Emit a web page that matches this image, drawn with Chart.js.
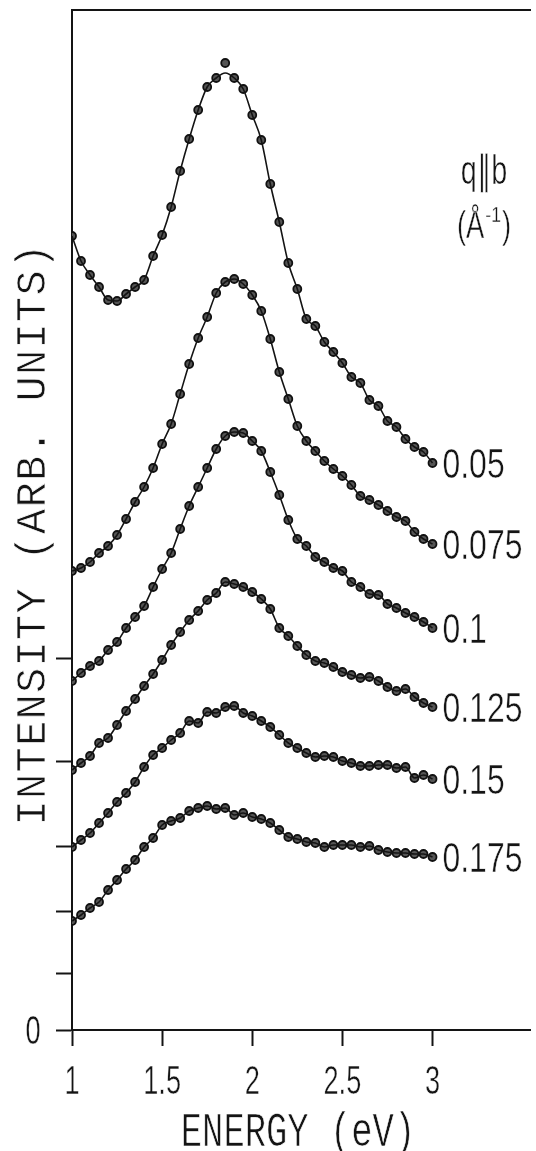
<!DOCTYPE html>
<html lang="en">
<head>
<meta charset="UTF-8">
<title>Loss spectra, INTENSITY vs ENERGY</title>
<script src="https://cdn.jsdelivr.net/npm/chart.js"></script>
<style>
    body {
        margin: 0;
        background-color: #fff;
    }
    #wrap {
        width: 536px;
        height: 1151px;
    }
</style>
</head>
<body>
<div id="wrap"><canvas id="lossChart" width="536" height="1151"></canvas></div>
<script>
    // energy grid of the measured spectra (eV)
    var energies = [1.00, 1.05, 1.10, 1.15, 1.20, 1.25, 1.30, 1.35, 1.40, 1.45,
        1.50, 1.55, 1.60, 1.65, 1.70, 1.75, 1.80, 1.85, 1.90, 1.95,
        2.00, 2.05, 2.10, 2.15, 2.20, 2.25, 2.30, 2.35, 2.40, 2.45,
        2.50, 2.55, 2.60, 2.65, 2.70, 2.75, 2.80, 2.85, 2.90, 2.95, 3.00];

    // momentum transfer q||b for each spectrum (1/A)
    var qLabels = ['0.05', '0.075', '0.1', '0.125', '0.15', '0.175'];

    // measured intensities (arb. units, curves offset vertically)
    var q005 = [7.94, 7.69, 7.55, 7.43, 7.30, 7.29, 7.36, 7.43, 7.50, 7.74,
        7.95, 8.23, 8.59, 8.91, 9.20, 9.43, 9.52, 9.67, 9.52, 9.41,
        9.15, 8.90, 8.46, 8.08, 7.67, 7.41, 7.11, 7.04, 6.88, 6.78,
        6.67, 6.53, 6.47, 6.30, 6.24, 6.09, 6.03, 5.91, 5.83, 5.78, 5.67];
    var q0075 = [4.59, 4.62, 4.68, 4.77, 4.84, 4.95, 5.11, 5.28, 5.43, 5.62,
        5.86, 6.06, 6.36, 6.66, 6.92, 7.13, 7.37, 7.48, 7.51, 7.46,
        7.35, 7.19, 6.91, 6.58, 6.31, 6.04, 5.89, 5.79, 5.69, 5.61,
        5.54, 5.45, 5.34, 5.30, 5.25, 5.19, 5.13, 5.09, 4.98, 4.91, 4.86];
    var q01 = [3.49, 3.57, 3.64, 3.69, 3.80, 3.88, 4.02, 4.13, 4.24, 4.43,
        4.61, 4.77, 5.01, 5.24, 5.43, 5.62, 5.81, 5.94, 5.98, 5.97,
        5.89, 5.79, 5.58, 5.35, 5.10, 4.91, 4.84, 4.73, 4.68, 4.62,
        4.59, 4.48, 4.43, 4.36, 4.35, 4.26, 4.22, 4.17, 4.13, 4.08, 4.02];
    var q0125 = [2.60, 2.67, 2.74, 2.87, 2.92, 3.05, 3.19, 3.31, 3.44, 3.56,
        3.70, 3.85, 3.98, 4.10, 4.19, 4.30, 4.37, 4.48, 4.46, 4.43,
        4.38, 4.31, 4.21, 4.02, 3.94, 3.84, 3.75, 3.69, 3.67, 3.63,
        3.58, 3.55, 3.52, 3.53, 3.49, 3.43, 3.39, 3.41, 3.33, 3.27, 3.23];
    var q015 = [1.83, 1.90, 1.97, 2.07, 2.17, 2.28, 2.37, 2.48, 2.63, 2.75,
        2.82, 2.90, 2.97, 3.09, 3.07, 3.18, 3.17, 3.23, 3.24, 3.17,
        3.14, 3.09, 3.03, 2.95, 2.87, 2.82, 2.77, 2.73, 2.74, 2.73,
        2.69, 2.67, 2.64, 2.64, 2.65, 2.65, 2.62, 2.63, 2.52, 2.55, 2.51];
    var q0175 = [1.09, 1.15, 1.22, 1.28, 1.40, 1.50, 1.61, 1.70, 1.83, 1.92,
        2.05, 2.09, 2.12, 2.19, 2.22, 2.24, 2.21, 2.22, 2.15, 2.17,
        2.13, 2.11, 2.07, 2.00, 1.93, 1.91, 1.88, 1.87, 1.83, 1.85,
        1.85, 1.85, 1.83, 1.84, 1.80, 1.78, 1.77, 1.77, 1.76, 1.76, 1.73];

    // smooth curve for the 0.05 spectrum (passes under the stray point at 1.85 eV)
    var fit005 = [7.94, 7.69, 7.55, 7.43, 7.30, 7.29, 7.36, 7.43, 7.50, 7.74,
        7.95, 8.23, 8.59, 8.91, 9.20, 9.43, 9.52, 9.57, 9.52, 9.41,
        9.15, 8.90, 8.46, 8.08, 7.67, 7.41, 7.11, 7.04, 6.88, 6.78,
        6.67, 6.53, 6.47, 6.30, 6.24, 6.09, 6.03, 5.91, 5.83, 5.78, 5.67];

    var spectra = [q005, q0075, q01, q0125, q015, q0175];
    var fits = [fit005, q0075, q01, q0125, q015, q0175];

    // axis ticks
    var xTicks = [1, 1.5, 2, 2.5, 3];
    var xTickLabels = ['1', '1.5', '2', '2.5', '3'];
    var yTicks = [0, 0.57, 1.19, 1.84, 2.69, 3.72];

    var INK = '#141414';
    var MONO = '"Liberation Mono", "DejaVu Sans Mono", monospace';
    var NUM = '"Liberation Sans", Arial, sans-serif';

    function toPoints(values) {
        return values.map(function (v, i) {
            return { x: energies[i], y: v };
        });
    }

    // tall, narrow, thin-stroked text (white outline eats into the glyphs)
    function drawText(ctx, str, x, y, o) {
        ctx.save();
        ctx.translate(x, y);
        if (o.rot) ctx.rotate(o.rot);
        ctx.scale(o.sx, 1);
        ctx.font = o.size + 'px ' + (o.family || NUM);
        ctx.letterSpacing = (o.spacing || 0) + 'px';
        ctx.textAlign = o.align || 'center';
        ctx.textBaseline = 'alphabetic';
        ctx.fillStyle = INK;
        ctx.fillText(str, 0, 0);
        if (o.thin) {
            ctx.strokeStyle = '#fff';
            ctx.lineWidth = o.thin;
            ctx.strokeText(str, 0, 0);
        }
        ctx.restore();
    }

    function textWidth(ctx, str, o) {
        ctx.save();
        ctx.font = o.size + 'px ' + (o.family || NUM);
        var w = ctx.measureText(str).width * o.sx;
        ctx.restore();
        return w;
    }

    var numStyle = { size: 40, sx: 0.68, thin: 0.5 };
    var qStyle = { size: 42, sx: 0.76, thin: 0.5, align: 'left' };

    var plotText = {
        id: 'plotText',
        afterDraw: function (chart) {
            var ctx = chart.ctx;
            var xs = chart.scales.x;
            var ys = chart.scales.y;

            xTicks.forEach(function (v, i) {
                drawText(ctx, xTickLabels[i], xs.getPixelForValue(v), 1094, numStyle);
            });
            drawText(ctx, '0', 33, ys.getPixelForValue(0) + 14, numStyle);

            drawText(ctx, 'ENERGY (eV)', 298, 1146,
                { size: 48, sx: 0.74, family: MONO, thin: 0.7 });
            drawText(ctx, 'INTENSITY (ARB. UNITS)', 45, 534,
                { size: 42, sx: 1, family: MONO, spacing: 1.3, thin: 0.7, rot: -Math.PI / 2 });

            // q value next to the last point of each spectrum
            spectra.forEach(function (s, i) {
                var meta = chart.getDatasetMeta(i * 2 + 1);
                var last = meta.data[meta.data.length - 1];
                drawText(ctx, qLabels[i], last.x + 10, last.y + 15, qStyle);
            });

            // heading for the q values: q||b (A^-1)
            drawText(ctx, 'q\u2225b', 484, 184, { size: 40, sx: 0.72, thin: 0.5 });
            var big = { size: 38, sx: 0.72, thin: 0.5, align: 'left' };
            var small = { size: 22, sx: 0.8, thin: 0.3, align: 'left' };
            var a = '(\u00C5', sup = '-1', b = ')';
            var wa = textWidth(ctx, a, big);
            var ws = textWidth(ctx, sup, small) + 2;
            var wb = textWidth(ctx, b, big);
            var x0 = 484 - (wa + ws + wb) / 2;
            drawText(ctx, a, x0, 238, big);
            drawText(ctx, sup, x0 + wa + 1, 222, small);
            drawText(ctx, b, x0 + wa + ws, 238, big);
        }
    };

    var datasets = [];
    spectra.forEach(function (s, i) {
        datasets.push({
            label: 'fit ' + qLabels[i],
            data: toPoints(fits[i]),
            borderColor: INK,
            borderWidth: 1.6,
            pointRadius: 0,
            cubicInterpolationMode: 'monotone',
            fill: false
        });
        datasets.push({
            label: 'q = ' + qLabels[i],
            data: toPoints(s),
            showLine: false,
            pointRadius: 4,
            pointBorderWidth: 1.8,
            pointBorderColor: '#111',
            pointBackgroundColor: '#555'
        });
    });

    var tickGrid = {
        drawOnChartArea: false,
        drawTicks: true,
        tickLength: 16,
        tickWidth: 2,
        tickColor: INK
    };

    var ctx = document.getElementById('lossChart').getContext('2d');
    var lossChart = new Chart(ctx, {
        type: 'line',
        data: { datasets: datasets },
        plugins: [plotText],
        options: {
            responsive: false,
            animation: false,
            devicePixelRatio: 1,
            layout: { padding: 0 },
            plugins: {
                legend: { display: false },
                tooltip: { enabled: false }
            },
            scales: {
                x: {
                    type: 'linear',
                    min: 1,
                    max: 3.542,
                    afterBuildTicks: function (scale) {
                        scale.ticks = xTicks.map(function (v) { return { value: v }; });
                    },
                    afterFit: function (scale) { scale.height = 121; },
                    ticks: { display: false },
                    grid: tickGrid,
                    border: { display: true, color: INK, width: 2 }
                },
                xTop: {
                    type: 'linear',
                    position: 'top',
                    min: 1,
                    max: 3.542,
                    afterFit: function (scale) { scale.height = 10; },
                    ticks: { display: false },
                    grid: { display: false },
                    border: { display: true, color: INK, width: 2 }
                },
                y: {
                    type: 'linear',
                    min: 0,
                    max: 10.2,
                    afterBuildTicks: function (scale) {
                        scale.ticks = yTicks.map(function (v) { return { value: v }; });
                    },
                    afterFit: function (scale) { scale.width = 72; },
                    ticks: { display: false },
                    grid: tickGrid,
                    border: { display: true, color: INK, width: 2 }
                }
            }
        }
    });
</script>
</body>
</html>
